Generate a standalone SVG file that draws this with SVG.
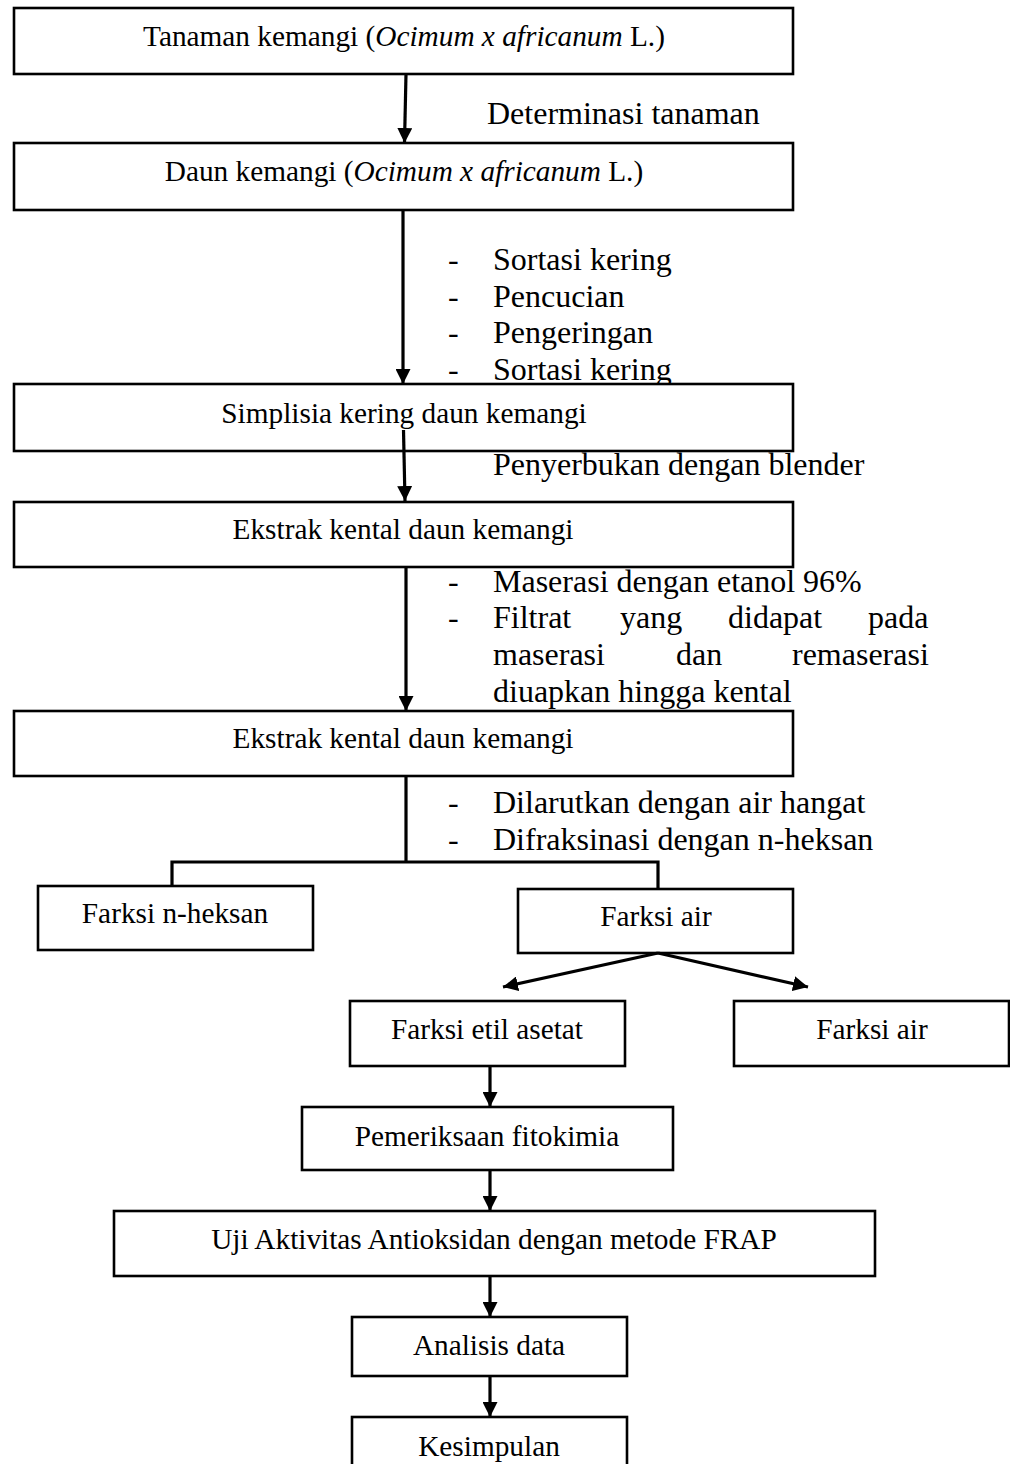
<svg xmlns="http://www.w3.org/2000/svg" width="1010" height="1464" viewBox="0 0 1010 1464">
<defs>
<style>
.box{fill:#fff;stroke:#000;stroke-width:2.6}
.bt{font-family:"Liberation Serif","Times New Roman",serif;font-size:29.3px;fill:#000;text-anchor:middle}
.lb{font-family:"Liberation Serif","Times New Roman",serif;font-size:32px;fill:#000}
.ln{fill:none;stroke:#000;stroke-width:3.2}
.it{font-style:italic}
</style>
<marker id="ah" viewBox="0 0 10 10" refX="10" refY="5" markerWidth="15" markerHeight="15" markerUnits="userSpaceOnUse" orient="auto">
<path d="M0,0 L10,5 L0,10 Z" fill="#000"/>
</marker>
</defs>
<rect width="1010" height="1464" fill="#fff"/>

<g id="labels">
<text class="lb" x="487" y="124">Determinasi tanaman</text>
<text class="lb" x="448" y="270">-</text><text class="lb" x="493" y="270">Sortasi kering</text>
<text class="lb" x="448" y="307">-</text><text class="lb" x="493" y="307">Pencucian</text>
<text class="lb" x="448" y="343">-</text><text class="lb" x="493" y="343">Pengeringan</text>
<text class="lb" x="448" y="380">-</text><text class="lb" x="493" y="380">Sortasi kering</text>
<text class="lb" x="493" y="475">Penyerbukan dengan blender</text>
<text class="lb" x="448" y="592">-</text><text class="lb" x="493" y="592">Maserasi dengan etanol 96%</text>
<text class="lb" x="448" y="628">-</text><text class="lb" y="628"><tspan x="493">Filtrat</tspan><tspan x="620">yang</tspan><tspan x="728">didapat</tspan><tspan x="868">pada</tspan></text>
<text class="lb" y="665"><tspan x="493">maserasi</tspan><tspan x="676">dan</tspan><tspan x="792">remaserasi</tspan></text>
<text class="lb" x="493" y="702">diuapkan hingga kental</text>
<text class="lb" x="448" y="813">-</text><text class="lb" x="493" y="813">Dilarutkan dengan air hangat</text>
<text class="lb" x="448" y="850">-</text><text class="lb" x="493" y="850">Difraksinasi dengan n-heksan</text>
</g>

<g id="n1"><rect class="box" x="14" y="8" width="779" height="66"/><text class="bt" x="404" y="46">Tanaman kemangi (<tspan class="it">Ocimum x africanum</tspan> L.)</text></g>
<g id="n2"><rect class="box" x="14" y="143" width="779" height="67"/><text class="bt" x="404" y="181">Daun kemangi (<tspan class="it">Ocimum x africanum</tspan> L.)</text></g>
<g id="n3"><rect class="box" x="14" y="384" width="779" height="67"/><text class="bt" x="404" y="423">Simplisia kering daun kemangi</text></g>
<g id="n4"><rect class="box" x="14" y="502" width="779" height="65"/><text class="bt" x="403" y="539">Ekstrak kental daun kemangi</text></g>
<g id="n5"><rect class="box" x="14" y="711" width="779" height="65"/><text class="bt" x="403" y="748">Ekstrak kental daun kemangi</text></g>
<g id="n6"><rect class="box" x="38" y="886" width="275" height="64"/><text class="bt" x="175" y="923">Farksi n-heksan</text></g>
<g id="n7"><rect class="box" x="518" y="889" width="275" height="64"/><text class="bt" x="656" y="926">Farksi air</text></g>
<g id="n8"><rect class="box" x="350" y="1001" width="275" height="65"/><text class="bt" x="487" y="1039">Farksi etil asetat</text></g>
<g id="n9"><rect class="box" x="734" y="1001" width="275" height="65"/><text class="bt" x="872" y="1039">Farksi air</text></g>
<g id="n10"><rect class="box" x="302" y="1107" width="371" height="63"/><text class="bt" x="487" y="1146">Pemeriksaan fitokimia</text></g>
<g id="n11"><rect class="box" x="114" y="1211" width="761" height="65"/><text class="bt" x="494" y="1249">Uji Aktivitas Antioksidan dengan metode FRAP</text></g>
<g id="n12"><rect class="box" x="352" y="1317" width="275" height="59"/><text class="bt" x="489" y="1355">Analisis data</text></g>
<g id="n13"><rect class="box" x="352" y="1417" width="275" height="70"/><text class="bt" x="489" y="1456">Kesimpulan</text></g>

<g id="connectors">
<line class="ln" x1="406" y1="74" x2="404.5" y2="143" marker-end="url(#ah)"/>
<line class="ln" x1="403" y1="210" x2="403" y2="384" marker-end="url(#ah)"/>
<line class="ln" x1="403.5" y1="430" x2="405" y2="501" marker-end="url(#ah)"/>
<line class="ln" x1="406" y1="567" x2="406" y2="711" marker-end="url(#ah)"/>
<polyline class="ln" points="406,776 406,862"/>
<polyline class="ln" points="172,886 172,862 658,862 658,889"/>
<line class="ln" x1="658" y1="953" x2="503" y2="987" marker-end="url(#ah)"/>
<line class="ln" x1="658" y1="953" x2="808" y2="987" marker-end="url(#ah)"/>
<line class="ln" x1="490" y1="1066" x2="490" y2="1107" marker-end="url(#ah)"/>
<line class="ln" x1="490" y1="1170" x2="490" y2="1211" marker-end="url(#ah)"/>
<line class="ln" x1="490" y1="1276" x2="490" y2="1317" marker-end="url(#ah)"/>
<line class="ln" x1="490" y1="1376" x2="490" y2="1417" marker-end="url(#ah)"/>
</g>
</svg>
